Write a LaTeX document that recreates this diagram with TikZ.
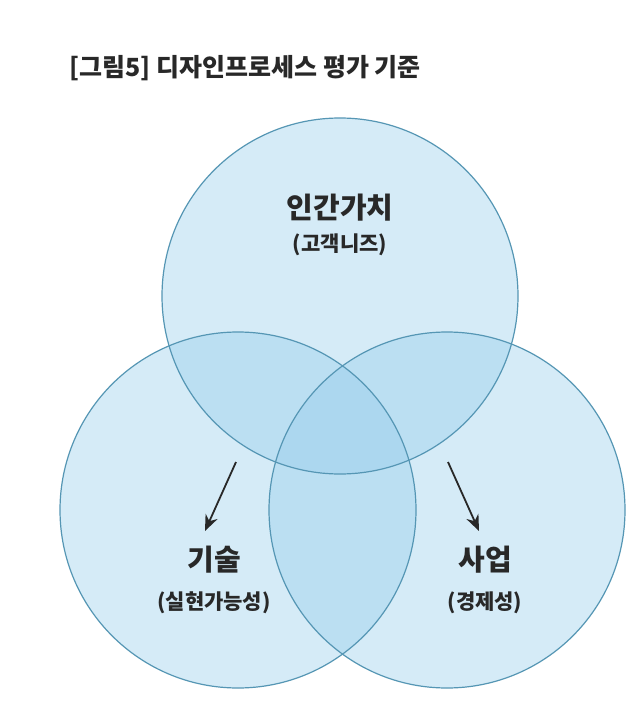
\documentclass[tikz,border=0pt]{standalone}
\usepackage{fontspec}
\setmainfont{Noto Sans CJK KR}
\usetikzlibrary{arrows.meta}
\definecolor{cfill}{RGB}{150,205,235}
\definecolor{cline}{RGB}{85,150,180}
\definecolor{ctext}{RGB}{40,40,40}
\tikzset{
  venn/.style={fill=cfill,fill opacity=0.4,draw=none},
  ring/.style={draw=cline,line width=1.2pt},
  big/.style={font=\fontsize{29}{30}\selectfont\bfseries,text=ctext},
  small/.style={font=\fontsize{21}{22}\selectfont\bfseries,text=ctext},
  arr/.style={-{Stealth[length=16pt,width=13pt]},line width=1.8pt,draw=ctext}
}
\begin{document}
\begin{tikzpicture}[x=1pt,y=-1pt]
\useasboundingbox (0,0) rectangle (640,714);
\fill[white] (0,0) rectangle (640,714);
\fill[venn] (340,296) circle (178);
\fill[venn] (238,510) circle (178);
\fill[venn] (447,510) circle (178);
\draw[ring] (340,296) circle (178);
\draw[ring] (238,510) circle (178);
\draw[ring] (447,510) circle (178);
\node[anchor=west,font=\fontsize{25}{26}\selectfont\bfseries,text=ctext] (title) at (66,68) {[그림5] 디자인프로세스 평가 기준};
\node[big] (a) at (340,208) {인간가치};
\node[small] (a2) at (340,245) {(고객니즈)};
\node[big] (b) at (214,560) {기술};
\node[small] (b2) at (214,603) {(실현가능성)};
\node[big] (c) at (485,560) {사업};
\node[small] (c2) at (485,603) {(경제성)};
\coordinate (s1) at (236,462);
\coordinate (s2) at (448,462);
\coordinate (e1) at (205,531);
\coordinate (e2) at (479,531);
\draw[arr] (s1) -- (e1);
\draw[arr] (s2) -- (e2);
\end{tikzpicture}
\end{document}
